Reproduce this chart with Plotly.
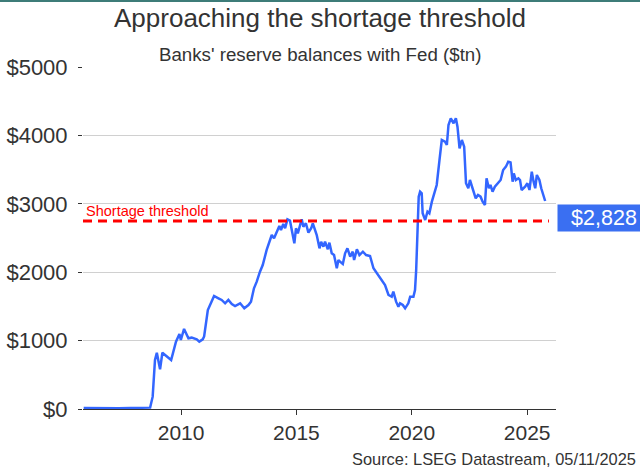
"""Banks' reserve balances with the Fed vs the shortage threshold."""

import plotly.graph_objects as go

COLOR_LINE = "#3366ff"
COLOR_LABEL = "#3a6ff2"
COLOR_THRESH = "#ff0000"
COLOR_TEXT = "#333333"
COLOR_GRID = "#d0d0d0"
FONT = "Arial, Liberation Sans, sans-serif"

# decimal years
YEARS = [
    2005.78, 2006.30, 2006.80, 2007.30, 2007.80, 2008.30, 2008.66, 2008.77, 2008.87, 2008.95,
    2009.09, 2009.19, 2009.31, 2009.57, 2009.78, 2009.93, 2009.99, 2010.13, 2010.32, 2010.46,
    2010.68, 2010.79, 2010.94, 2011.00, 2011.16, 2011.33, 2011.43, 2011.62, 2011.76, 2011.91,
    2012.05, 2012.20, 2012.34, 2012.56, 2012.74, 2012.92, 2013.03, 2013.16, 2013.28, 2013.42,
    2013.54, 2013.71, 2013.86, 2013.93, 2014.03, 2014.15, 2014.26, 2014.33, 2014.43, 2014.51,
    2014.61, 2014.72, 2014.81, 2014.91, 2014.98, 2015.06, 2015.16, 2015.23, 2015.30, 2015.41,
    2015.52, 2015.64, 2015.71, 2015.81, 2015.88, 2016.00, 2016.07, 2016.17, 2016.24, 2016.36,
    2016.43, 2016.53, 2016.63, 2016.75, 2016.82, 2016.89, 2017.01, 2017.11, 2017.21, 2017.33,
    2017.44, 2017.50, 2017.62, 2017.73, 2017.88, 2018.02, 2018.19, 2018.34, 2018.49, 2018.70,
    2018.84, 2018.99, 2019.13, 2019.20, 2019.32, 2019.42, 2019.49, 2019.61, 2019.71, 2019.85,
    2019.93, 2020.07, 2020.14, 2020.19, 2020.24, 2020.30, 2020.36, 2020.43, 2020.47, 2020.58,
    2020.68, 2020.76, 2020.87, 2020.97, 2021.08, 2021.20, 2021.30, 2021.44, 2021.52, 2021.59,
    2021.69, 2021.81, 2021.91, 2021.98, 2022.07, 2022.17, 2022.27, 2022.35, 2022.45, 2022.52,
    2022.59, 2022.66, 2022.77, 2022.87, 2022.98, 2023.07, 2023.17, 2023.24, 2023.34, 2023.41,
    2023.50, 2023.60, 2023.74, 2023.85, 2023.96, 2024.08, 2024.18, 2024.28, 2024.37, 2024.42,
    2024.51, 2024.62, 2024.69, 2024.76, 2024.91, 2025.01, 2025.10, 2025.20, 2025.28, 2025.35,
    2025.42, 2025.53, 2025.61, 2025.68, 2025.78,
]

# reserve balances, $bn
RESERVES = [
    15, 12, 18, 10, 16, 12, 20, 180, 716, 823,
    580, 823, 790, 716, 985, 1096, 1009, 1170, 1033, 1043,
    1019, 985, 1019, 1060, 1447, 1569, 1652, 1618, 1594, 1545,
    1594, 1535, 1506, 1545, 1472, 1520, 1569, 1765, 1862, 2007,
    2105, 2325, 2471, 2544, 2495, 2593, 2675, 2617, 2705, 2642,
    2773, 2753, 2617, 2422, 2642, 2568, 2690, 2773, 2665, 2715,
    2578, 2642, 2715, 2627, 2544, 2349, 2446, 2373, 2446, 2335,
    2432, 2276, 2251, 2057, 2178, 2154, 2120, 2276, 2349, 2227,
    2300, 2178, 2335, 2251, 2300, 2251, 2237, 2057, 1984, 1886,
    1813, 1667, 1642, 1715, 1569, 1496, 1545, 1520, 1472, 1545,
    1642, 1642, 1740, 2032, 2568, 3104, 3177, 3154, 2861, 2763,
    2885, 2861, 3031, 3154, 3275, 3640, 3933, 3908, 3860, 4152,
    4250, 4177, 4250, 4128, 3811, 3933, 3835, 3300, 3227, 3348,
    3275, 3227, 3080, 3129, 3104, 3031, 2982, 3373, 3227, 3275,
    3177, 3250, 3300, 3348, 3494, 3543, 3616, 3606, 3323, 3445,
    3348, 3373, 3348, 3202, 3250, 3300, 3202, 3470, 3323, 3227,
    3421, 3348, 3227, 3154, 3041,
]

THRESHOLD = 2750
LAST_LABEL = "$2,828"
LAST_LABEL_VALUE = 2828

Y_TICKS = [0, 1000, 2000, 3000, 4000, 5000]
X_TICKS = [2010, 2015, 2020, 2025]

fig = go.Figure(
    go.Scatter(
        x=YEARS,
        y=RESERVES,
        mode="lines",
        line={"color": COLOR_LINE, "width": 2.5},
        hoverinfo="skip",
        showlegend=False,
    )
)

fig.add_shape(
    type="line",
    xref="paper",
    yref="y",
    x0=0,
    x1=0.985,
    y0=THRESHOLD,
    y1=THRESHOLD,
    line={"color": COLOR_THRESH, "width": 3, "dash": "9px,6px"},
)
# thin teal rule along the top edge
fig.add_shape(
    type="line",
    xref="paper",
    yref="paper",
    x0=-0.2,
    x1=1.2,
    y0=1.193,
    y1=1.193,
    line={"color": "#3d7c78", "width": 2},
)

fig.add_annotation(
    x=YEARS[0],
    y=THRESHOLD,
    xref="x",
    yref="y",
    text="Shortage threshold",
    showarrow=False,
    xanchor="left",
    yanchor="bottom",
    xshift=0,
    yshift=0,
    font={"family": FONT, "size": 14.5, "color": COLOR_THRESH},
)
fig.add_annotation(
    x=1,
    y=LAST_LABEL_VALUE,
    xref="paper",
    yref="y",
    text=LAST_LABEL,
    showarrow=False,
    xanchor="left",
    yanchor="middle",
    xshift=1,
    yshift=-2,
    width=90,
    align="center",
    bgcolor=COLOR_LABEL,
    borderpad=1,
    font={"family": FONT, "size": 21.5, "color": "#ffffff"},
)
fig.add_annotation(
    x=0.5,
    y=1.0,
    xref="paper",
    yref="paper",
    yanchor="bottom",
    yshift=0,
    text="Banks' reserve balances with Fed ($tn)",
    showarrow=False,
    font={"family": FONT, "size": 18.7, "color": COLOR_TEXT},
)
fig.add_annotation(
    x=1.0,
    y=0,
    xref="paper",
    yref="paper",
    xanchor="right",
    yanchor="top",
    xshift=82,
    yshift=-39,
    text="Source: LSEG Datastream, 05/11/2025",
    showarrow=False,
    font={"family": FONT, "size": 16.4, "color": COLOR_TEXT},
)

fig.update_layout(
    width=640,
    height=470,
    paper_bgcolor="#ffffff",
    plot_bgcolor="#ffffff",
    font={"family": FONT, "color": COLOR_TEXT},
    title={
        "text": "Approaching the shortage threshold",
        "x": 0.5,
        "xanchor": "center",
        "y": 0.962,
        "yanchor": "middle",
        "font": {"family": FONT, "size": 26, "color": COLOR_TEXT},
    },
    margin={"l": 83, "r": 84, "t": 67, "b": 61},
    hovermode=False,
)

fig.update_xaxes(
    range=[2005.75, 2026.25],
    tickvals=X_TICKS,
    ticktext=[str(t) for t in X_TICKS],
    showgrid=False,
    showline=True,
    linecolor=COLOR_TEXT,
    linewidth=1,
    ticks="outside",
    ticklen=5,
    tickcolor=COLOR_TEXT,
    tickfont={"family": FONT, "size": 21, "color": COLOR_TEXT},
    zeroline=False,
    automargin=False,
)
fig.update_yaxes(
    range=[0, 5000],
    tickvals=Y_TICKS,
    ticktext=[f"${t}" for t in Y_TICKS],
    showgrid=True,
    gridcolor=COLOR_GRID,
    gridwidth=1,
    showline=False,
    ticks="outside",
    ticklen=4,
    tickcolor=COLOR_TEXT,
    ticklabelstandoff=6,
    tickfont={"family": FONT, "size": 22, "color": COLOR_TEXT},
    zeroline=False,
    automargin=False,
)

# drop the default page margin so the figure sits at the window corner
fig.write_html(
    "out.html",
    config={"displayModeBar": False},
    post_script="document.body.style.margin='0';",
)
